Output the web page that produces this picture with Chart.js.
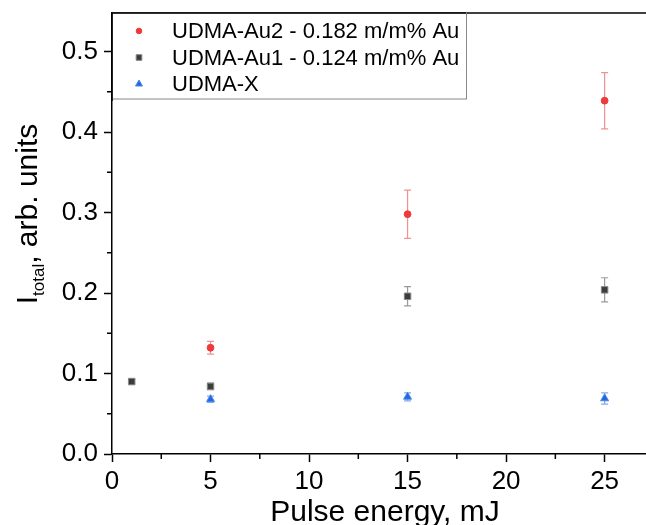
<!DOCTYPE html>
<html>
<head>
<meta charset="utf-8">
<script src="https://cdn.jsdelivr.net/npm/chart.js@4/dist/chart.umd.min.js"></script>
<style>
  html, body { margin: 0; padding: 0; background: #fff; }
  #wrap { width: 646px; height: 525px; }
</style>
</head>
<body>
<div id="wrap"><canvas id="chart" width="646" height="525"></canvas></div>
<script>
// ==========================
// Data
// ==========================
const seriesNames = ["UDMA-Au2 - 0.182 m/m% Au", "UDMA-Au1 - 0.124 m/m% Au", "UDMA-X"];

const au2Energy = [5, 15, 25];
const au2Value = [0.132, 0.298, 0.439];
const au2Err = [0.008, 0.030, 0.035];

const au1Energy = [1, 5, 15, 25];
const au1Value = [0.090, 0.084, 0.196, 0.204];
const au1Err = [0.003, 0.004, 0.012, 0.015];

const xEnergy = [5, 15, 25];
const xValue = [0.068, 0.071, 0.069];
const xErr = [0.004, 0.005, 0.007];

const xTicks = [0, 5, 10, 15, 20, 25];
const yTicks = [0.0, 0.1, 0.2, 0.3, 0.4, 0.5];

const FONT = "'Liberation Sans', Arial, sans-serif";

function toPoints(xs, ys) {
  return xs.map((x, i) => ({ x: x, y: ys[i] }));
}

// ==========================
// Error bars
// ==========================
const errorBars = {
  id: "errorBars",
  beforeDatasetsDraw(chart) {
    const ctx = chart.ctx;
    const xs = chart.scales.x, ys = chart.scales.y;
    chart.data.datasets.forEach(ds => {
      ctx.save();
      ctx.strokeStyle = ds.errColor;
      ctx.lineWidth = 1.2;
      ds.data.forEach((p, i) => {
        const px = xs.getPixelForValue(p.x);
        const top = ys.getPixelForValue(p.y + ds.err[i]);
        const bot = ys.getPixelForValue(p.y - ds.err[i]);
        ctx.beginPath();
        ctx.moveTo(px, top); ctx.lineTo(px, bot);
        ctx.moveTo(px - 3.5, top); ctx.lineTo(px + 3.5, top);
        ctx.moveTo(px - 3.5, bot); ctx.lineTo(px + 3.5, bot);
        ctx.stroke();
      });
      ctx.restore();
    });
  }
};

// ==========================
// Frame, minor ticks, titles, legend
// ==========================
const decorations = {
  id: "decorations",
  afterDraw(chart) {
    const ctx = chart.ctx;
    const a = chart.chartArea;
    const xs = chart.scales.x, ys = chart.scales.y;
    ctx.save();
    ctx.strokeStyle = "#000";
    ctx.lineWidth = 1.5;

    // top frame line
    ctx.beginPath();
    ctx.moveTo(a.left, a.top); ctx.lineTo(chart.width, a.top);
    ctx.stroke();

    // minor ticks
    ctx.beginPath();
    for (let v = 2.5; v < xs.max; v += 5) {
      const px = xs.getPixelForValue(v);
      ctx.moveTo(px, a.bottom); ctx.lineTo(px, a.bottom + 5);
    }
    for (let v = 0.05; v < ys.max; v += 0.1) {
      const py = ys.getPixelForValue(v);
      ctx.moveTo(a.left, py); ctx.lineTo(a.left - 5, py);
    }
    ctx.stroke();

    // x title
    ctx.fillStyle = "#000";
    ctx.font = "30px " + FONT;
    ctx.textAlign = "center";
    ctx.textBaseline = "alphabetic";
    ctx.fillText("Pulse energy, mJ", 385, 521);

    // y title with subscript
    ctx.save();
    ctx.translate(37, 214);
    ctx.rotate(-Math.PI / 2);
    const big = "30px " + FONT, small = "17px " + FONT;
    ctx.font = big; const wI = ctx.measureText("I").width;
    ctx.font = small; const wSub = ctx.measureText("total").width;
    ctx.font = big; const wRest = ctx.measureText(", arb. units").width;
    let x0 = -(wI + wSub + wRest) / 2;
    ctx.textAlign = "left";
    ctx.font = big; ctx.fillText("I", x0, 0); x0 += wI;
    ctx.font = small; ctx.fillText("total", x0, 7); x0 += wSub;
    ctx.font = big; ctx.fillText(", arb. units", x0, 0);
    ctx.restore();

    // legend box
    const lx = a.left, ly = a.top, lw = 354, lh = 86;
    ctx.fillStyle = "#fff";
    ctx.fillRect(lx, ly, lw, lh);
    ctx.strokeStyle = "#888";
    ctx.lineWidth = 1;
    ctx.strokeRect(lx + 0.5, ly, lw, lh);
    ctx.strokeStyle = "#000";
    ctx.lineWidth = 1.5;
    ctx.beginPath();
    ctx.moveTo(a.left, a.top); ctx.lineTo(a.left, a.top + lh + 2);
    ctx.moveTo(a.left, a.top); ctx.lineTo(a.left + lw, a.top);
    ctx.stroke();

    ctx.font = "22px " + FONT;
    ctx.textBaseline = "middle";
    ctx.textAlign = "left";
    chart.data.datasets.forEach((ds, i) => {
      const yy = ly + 18 + i * 26.5;
      ctx.fillStyle = ds.backgroundColor;
      ctx.strokeStyle = ds.borderColor;
      ctx.lineWidth = 1;
      Chart.helpers.drawPoint(ctx, {
        pointStyle: ds.pointStyle,
        radius: ds.pointRadius - 0.6,
        borderWidth: 1
      }, lx + 27, yy);
      ctx.fillStyle = "#000";
      ctx.fillText(ds.label, lx + 60, yy + 1);
    });
    ctx.restore();
  }
};

// ==========================
// Chart
// ==========================
new Chart(document.getElementById("chart"), {
  type: "scatter",
  data: {
    datasets: [
      {
        label: seriesNames[0],
        data: toPoints(au2Energy, au2Value),
        err: au2Err,
        errColor: "rgba(232,110,110,0.75)",
        pointStyle: "circle",
        pointRadius: 3.4,
        backgroundColor: "#ef3a3a",
        borderColor: "#ef3a3a",
        borderWidth: 1
      },
      {
        label: seriesNames[1],
        data: toPoints(au1Energy, au1Value),
        err: au1Err,
        errColor: "rgba(110,110,110,0.7)",
        pointStyle: "rect",
        pointRadius: 4.6,
        backgroundColor: "#3c3c3c",
        borderColor: "#8a8a8a",
        borderWidth: 1
      },
      {
        label: seriesNames[2],
        data: toPoints(xEnergy, xValue),
        err: xErr,
        errColor: "rgba(90,140,230,0.75)",
        pointStyle: "triangle",
        pointRadius: 4.6,
        backgroundColor: "#1f68e0",
        borderColor: "#4a86e8",
        borderWidth: 1
      }
    ]
  },
  options: {
    responsive: false,
    animation: false,
    layout: { autoPadding: false, padding: { top: 13, right: 0, left: 0, bottom: 0 } },
    plugins: {
      legend: { display: false },
      tooltip: { enabled: false }
    },
    scales: {
      x: {
        type: "linear",
        min: 0,
        max: 27.1,
        afterFit: s => { s.height = 71; s.paddingLeft = 0; s.paddingRight = 0; },
        afterBuildTicks: s => { s.ticks = xTicks.map(v => ({ value: v })); },
        ticks: {
          color: "#000",
          font: { family: FONT, size: 26 },
          padding: 4,
          maxRotation: 0,
          callback: v => String(v)
        },
        grid: { drawOnChartArea: false, drawTicks: true, tickLength: 8, tickColor: "#000", tickWidth: 1.5 },
        border: { display: true, color: "#000", width: 1.5 }
      },
      y: {
        type: "linear",
        min: 0,
        max: 0.548,
        afterFit: s => { s.width = 112; s.paddingTop = 0; s.paddingBottom = 0; },
        afterBuildTicks: s => { s.ticks = yTicks.map(v => ({ value: v })); },
        ticks: {
          color: "#000",
          font: { family: FONT, size: 26 },
          padding: 6,
          callback: v => v.toFixed(1)
        },
        grid: { drawOnChartArea: false, drawTicks: true, tickLength: 8, tickColor: "#000", tickWidth: 1.5 },
        border: { display: true, color: "#000", width: 1.5 }
      }
    }
  },
  plugins: [errorBars, decorations]
});
</script>
</body>
</html>
